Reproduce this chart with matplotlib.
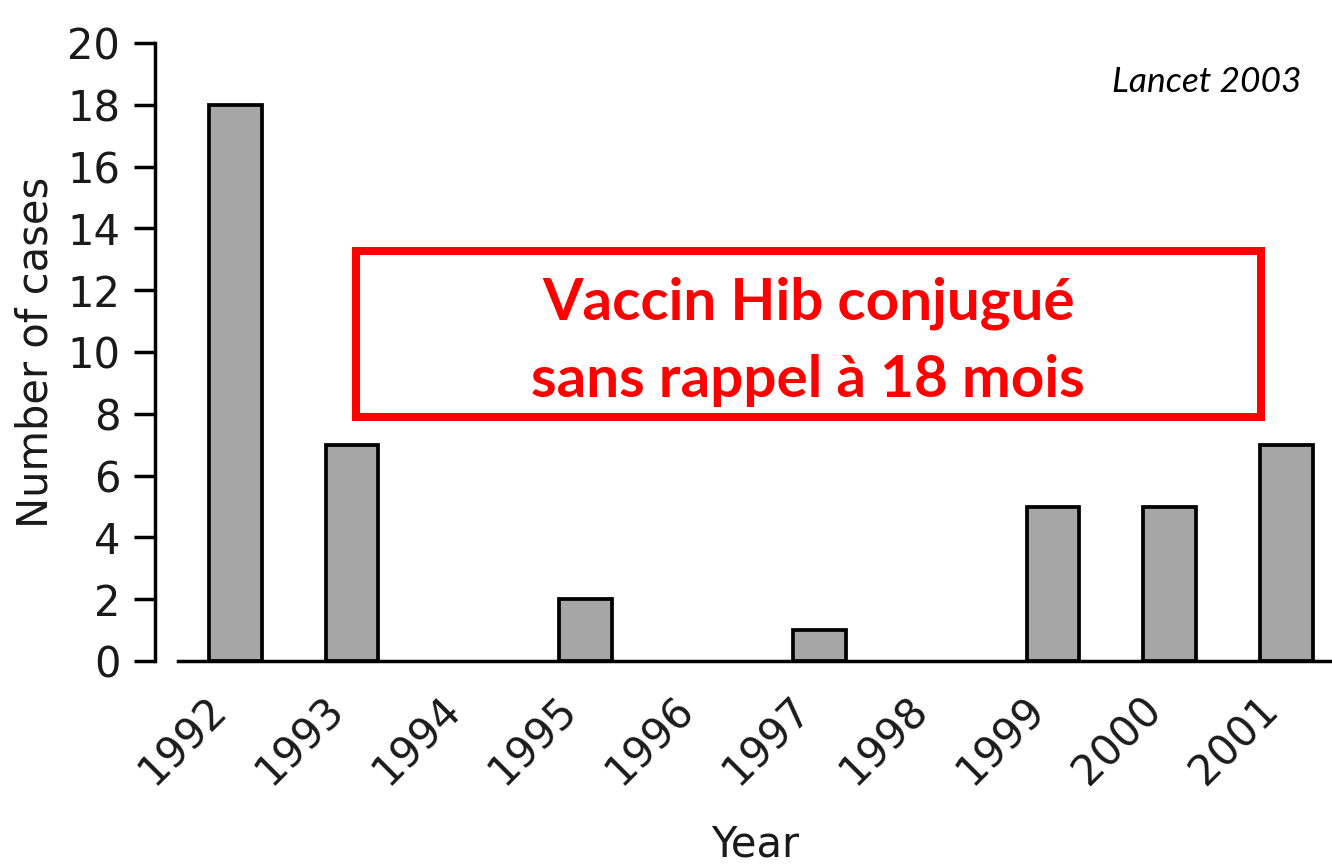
import matplotlib
matplotlib.use("Agg")
import matplotlib.pyplot as plt
from matplotlib.patches import Rectangle

years = ["1992", "1993", "1994", "1995", "1996", "1997", "1998", "1999", "2000", "2001"]
cases = [18, 7, 0, 2, 0, 1, 0, 5, 5, 7]
yticks = [0, 2, 4, 6, 8, 10, 12, 14, 16, 18, 20]

W, H = 1332, 868
fig = plt.figure(figsize=(W / 100, H / 100), dpi=100)
ax = fig.add_axes([178 / W, 1 - 661 / H, 1 - 178 / W, (661 - 43) / H])

x = list(range(len(years)))
lws = [2.7 if v > 0 else 0 for v in cases]
ax.bar(x, cases, width=0.45, color="#a6a6a6", edgecolor="black", linewidth=lws, zorder=3)

ax.set_xlim(-0.49, 9.39)
ax.set_ylim(0, 20)
ax.set_yticks(yticks)
ax.set_xticks(x)
ax.set_xticklabels(years, rotation=45, ha="right", va="top")

for s in ["top", "right"]:
    ax.spines[s].set_visible(False)
ax.spines["left"].set_position(("outward", 16.5))
ax.spines["left"].set_linewidth(2.5)
ax.spines["bottom"].set_linewidth(2.5)
ax.spines["left"].set_bounds(0, 20)

tc = "#1a1a1a"
ax.tick_params(axis="y", length=15, width=2.5, pad=10, labelsize=30, labelcolor=tc)
ax.tick_params(axis="x", length=0, pad=20, labelsize=30, labelcolor=tc)

ax.set_ylabel("Number of cases", fontsize=30, color=tc, labelpad=8)
ax.set_xlabel("Year", fontsize=30, color=tc, labelpad=22)

# Red annotation box
fig.patches.append(Rectangle((356 / W, 1 - 417 / H), (1261 - 356) / W, (417 - 251) / H,
                             transform=fig.transFigure, fill=False, edgecolor="#ff0000",
                             linewidth=5.8, zorder=5))
fig.text(809 / W, 1 - 320 / H, "Vaccin Hib conjugué", color="#ff0000", fontsize=42,
         fontweight="bold", family=["Lato", "DejaVu Sans"], ha="center", va="baseline")
fig.text(808 / W, 1 - 397 / H, "sans rappel à 18 mois", color="#ff0000", fontsize=42,
         fontweight="bold", family=["Lato", "DejaVu Sans"], ha="center", va="baseline")

fig.text(1302 / W, 1 - 92 / H, "Lancet 2003", color="black", fontsize=25.5, style="italic",
         family=["Lato", "DejaVu Sans"], ha="right", va="baseline")

fig.savefig("out.png", dpi=100)
